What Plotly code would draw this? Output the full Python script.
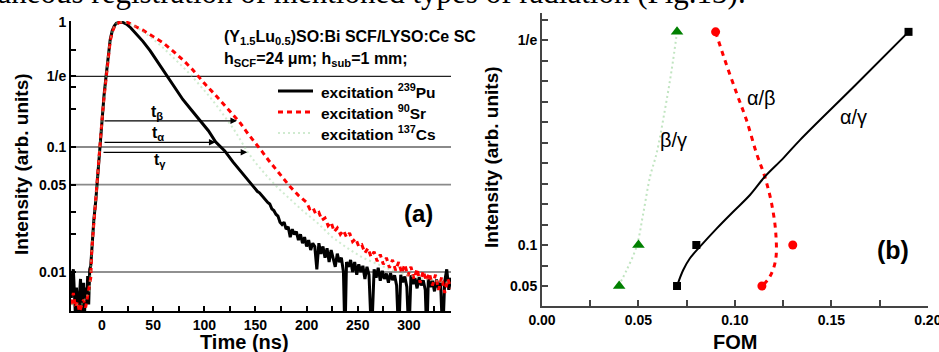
import numpy as np
import plotly.graph_objects as go

W, H = 939, 352
SANS = "Liberation Sans, Arial, sans-serif"
SERIF = "Liberation Serif, Times New Roman, serif"

# ---------------- Panel (a): decay curves ----------------
pu_t = [-30, -29, -28, -27, -26, -25, -24, -23, -22, -21, -20, -19, -18, -17, -16, -15, -14, -13, -12, -11,
        -10, -8, -6, -5, -4, -3, -2, -1, 0, 2, 4, 6, 8, 10, 12, 14, 16, 18, 20, 24, 28, 32, 40, 47, 55, 63,
        71, 79, 88, 96, 104, 111, 120, 128, 136, 144,
        150, 152, 154, 156, 158, 160, 162, 164, 166, 168, 170, 172, 174, 176, 178, 180, 182, 184, 186, 188,
        190, 192, 194, 196, 198, 200, 202, 204, 206, 208, 210, 212, 214, 216, 218, 220, 222, 224, 226, 228,
        230, 232, 234, 236, 237.5, 239, 241, 243, 245, 247, 249, 251, 253, 255, 257, 259, 261, 263.5, 266,
        268, 270, 272, 274, 276, 278, 280, 282, 284, 286, 288, 290, 292, 294, 296, 298, 300, 302, 304, 306,
        308, 310, 312, 314, 316, 317.5, 319, 321, 323, 325, 327, 329, 331, 333, 335, 337, 339, 341]
pu_v = [0.0062, 0.0095, 0.0105, 0.0068, 0.0045, 0.0075, 0.0052, 0.0042, 0.0065, 0.0088, 0.0048, 0.0062,
        0.0082, 0.0048, 0.0075, 0.0055, 0.0093, 0.0055, 0.0105, 0.0112,
        0.016, 0.026, 0.038, 0.048, 0.06, 0.08, 0.11, 0.14, 0.17, 0.26, 0.37, 0.54, 0.72, 0.85, 0.93, 0.975,
        0.995, 1.0, 0.995, 0.96, 0.9, 0.83, 0.7, 0.59, 0.47, 0.37, 0.3, 0.24, 0.195, 0.162, 0.135, 0.11,
        0.093, 0.076, 0.063, 0.052,
        0.046, 0.044, 0.043, 0.041, 0.039, 0.038, 0.036, 0.035, 0.032, 0.031, 0.029, 0.028, 0.025, 0.024,
        0.025, 0.022, 0.023, 0.019, 0.022, 0.020, 0.021, 0.018, 0.020, 0.017, 0.019, 0.016, 0.018, 0.015,
        0.017, 0.016, 0.0105, 0.017, 0.014, 0.016, 0.013, 0.0155, 0.012, 0.015, 0.013, 0.011,
        0.014, 0.012, 0.013, 0.010, 0.003, 0.012, 0.011, 0.0125, 0.010, 0.012, 0.0095, 0.0115, 0.010, 0.0112,
        0.0088, 0.011, 0.0095, 0.003, 0.0105, 0.009, 0.0108, 0.0085, 0.0102, 0.0088, 0.0097, 0.0082, 0.0098,
        0.0086, 0.0094, 0.0078, 0.003, 0.0095, 0.0083, 0.0092, 0.0076, 0.003, 0.0094, 0.008, 0.0089, 0.0074,
        0.0091, 0.0078, 0.0086, 0.0072, 0.003, 0.0088, 0.0076, 0.0085, 0.007, 0.0087, 0.0074, 0.0082, 0.003,
        0.0084, 0.0105, 0.0072, 0.009]

sr_t = [-30, -28, -26, -24, -22, -20, -18, -16, -14, -12, -11, -10, -8, -6, -4, -2, 0, 2, 4, 6, 8, 10, 12,
        14, 17, 20, 23, 26, 30, 35, 40, 50, 60, 70, 80, 88, 94, 102, 110, 118, 126, 134, 142, 150, 156, 163,
        170, 177, 184, 192,
        200, 203, 206, 209, 212, 215, 218, 221, 224, 227, 230, 233, 236, 239, 242, 245, 248, 251, 254, 257,
        260, 263, 266, 269, 272, 275, 278, 281, 284, 287, 290, 293, 296, 299, 302, 305, 308, 311, 314, 317,
        320, 323, 326, 329, 332, 335, 338, 341]
sr_v = [0.0055, 0.0068, 0.0052, 0.0058, 0.0048, 0.0054, 0.006, 0.0052, 0.0065, 0.0075, 0.009, 0.015, 0.025,
        0.037, 0.058, 0.105, 0.165, 0.25, 0.36, 0.52, 0.7, 0.83, 0.91, 0.96, 0.99, 1.0, 1.0, 0.985, 0.94,
        0.9, 0.86, 0.77, 0.68, 0.58, 0.49, 0.42, 0.368, 0.31, 0.265, 0.225, 0.19, 0.16, 0.13, 0.106, 0.093,
        0.078, 0.066, 0.057, 0.048, 0.041,
        0.036, 0.032, 0.033, 0.029, 0.030, 0.026, 0.027, 0.0235, 0.025, 0.021, 0.0225, 0.020, 0.0215, 0.019,
        0.0205, 0.0175, 0.0185, 0.016, 0.0165, 0.0142, 0.0155, 0.0132, 0.0145, 0.0122, 0.0138, 0.0115, 0.013,
        0.0108, 0.0125, 0.0103, 0.012, 0.0098, 0.0115, 0.0093, 0.011, 0.0088, 0.0106, 0.0082, 0.0102, 0.0085,
        0.0098, 0.0078, 0.0095, 0.0072, 0.0091, 0.0068, 0.0088, 0.0074]

cs_t = [-30, -20, -12, -10, -8, -6, -4, -2, 0, 2, 4, 6, 8, 10, 12, 14, 17, 21, 25, 30, 40, 50, 60, 70, 80,
        88, 96, 104, 112, 120, 128, 135, 142, 150, 160, 172, 184, 196, 210, 225, 240, 255, 270, 285, 300,
        315, 330, 341]
cs_v = [0.0055, 0.0055, 0.007, 0.016, 0.026, 0.038, 0.06, 0.11, 0.17, 0.26, 0.37, 0.54, 0.72, 0.85, 0.93,
        0.975, 0.998, 1.0, 0.98, 0.95, 0.84, 0.73, 0.62, 0.52, 0.43, 0.368, 0.31, 0.26, 0.215, 0.175, 0.142,
        0.115, 0.092, 0.075, 0.06, 0.047, 0.038, 0.031, 0.025, 0.019, 0.0155, 0.013, 0.0115, 0.0102, 0.0094,
        0.0088, 0.0084, 0.0082]

a_ticks = [1.0, 1 / np.e, 0.1, 0.05, 0.01]
a_ticktext = ["1", "1/e", "0.1", "0.05", "0.01"]
ref_levels = [1 / np.e, 0.1, 0.05, 0.01]
ref_colors = ["#222222", "#8a8a8a", "#8a8a8a", "#222222"]
ref_widths = [1.2, 2.0, 1.6, 1.2]

series_names = ["excitation <sup>239</sup>Pu", "excitation <sup>90</sup>Sr", "excitation <sup>137</sup>Cs"]
series_colors = ["black", "#ff0000", "rgba(150,210,150,0.45)"]
series_widths = [3, 3, 2]
series_dash = ["solid", "5px,4px", "2px,3px"]

arrow_names = ["t<sub>β</sub>", "t<sub>α</sub>", "t<sub>γ</sub>"]
arrow_level = [0.162, 0.109, 0.0907]
arrow_start = [1, 1, 0]
arrow_end = [132, 111, 142]
arrow_label_x = [54, 55, 57]
arrow_label_y = [0.19, 0.129, 0.0785]

# ---------------- Panel (b): FOM ----------------
ag_fom = [0.07, 0.08, 0.19]
ag_int = [0.05, 0.1, 0.36]
ab_fom = [0.09, 0.13, 0.114]
ab_int = [0.36, 0.1, 0.05]
bg_fom = [0.07, 0.05, 0.04]
bg_int = [0.36, 0.1, 0.05]

ag_fit_fom = [0.07, 0.0732, 0.0767, 0.0819, 0.0905, 0.0991, 0.1078, 0.1155, 0.125, 0.1337, 0.162, 0.19]
ag_fit_int = [0.05, 0.0695, 0.0838, 0.098, 0.12, 0.1406, 0.161, 0.1833, 0.2057, 0.228, 0.294, 0.36]
ab_fit_fom = [0.09, 0.0948, 0.1009, 0.106, 0.1112, 0.1155, 0.119, 0.1212, 0.1211, 0.1181, 0.1138]
ab_fit_int = [0.36, 0.3256, 0.285, 0.2524, 0.2118, 0.1833, 0.1509, 0.1143, 0.0817, 0.0613, 0.0491]
bg_fit_fom = [0.07, 0.0672, 0.0637, 0.0594, 0.056, 0.0525, 0.049, 0.0439, 0.0404]
bg_fit_int = [0.36, 0.3134, 0.2646, 0.2118, 0.1833, 0.1387, 0.098, 0.0695, 0.0533]

b_xticks = [0.0, 0.05, 0.1, 0.15, 0.2]
b_xticktext = ["0.00", "0.05", "0.10", "0.15", "0.20"]
b_ticks = [0.05, 0.1, 0.35]
b_ticktext = ["0.05", "0.1", "1/e"]


def px(x):
    return x / W


def py(y):
    return 1 - y / H


# axis calibration (pixels)
A_L, A_R, A_T, A_B = 71, 451, 21, 311
B_L, B_R, B_T, B_B = 542, 928, 13, 306
a_xrange = [(A_L - 102) / 1.023, (A_R - 102) / 1.023]
a_yrange = [-(A_B - 22) / 125.0, (22 - A_T) / 125.0]
b_xrange = [0.0, 0.2001]
b_yrange = [0.0256, 0.383]

fig = go.Figure()

for lv, c, w in zip(ref_levels, ref_colors, ref_widths):
    fig.add_trace(go.Scatter(x=a_xrange, y=[lv, lv], mode="lines", line=dict(color=c, width=w),
                             showlegend=False, hoverinfo="skip", xaxis="x", yaxis="y"))

for tt, vv, nm, c, w, d in zip([pu_t, sr_t, cs_t], [pu_v, sr_v, cs_v], series_names, series_colors,
                               series_widths, series_dash):
    fig.add_trace(go.Scatter(x=tt, y=vv, mode="lines", name=nm, showlegend=False,
                             line=dict(color=c, width=w, dash=d), xaxis="x", yaxis="y"))

# panel b fits
fig.add_trace(go.Scatter(x=bg_fit_fom, y=bg_fit_int, mode="lines", line_shape="spline",
                         line=dict(color="rgba(150,210,150,0.6)", width=2, dash="2px,3px"),
                         showlegend=False, xaxis="x2", yaxis="y2"))
fig.add_trace(go.Scatter(x=ab_fit_fom, y=ab_fit_int, mode="lines", line_shape="spline",
                         line=dict(color="#ff0000", width=3, dash="5px,5px"),
                         showlegend=False, xaxis="x2", yaxis="y2"))
fig.add_trace(go.Scatter(x=ag_fit_fom, y=ag_fit_int, mode="lines", line_shape="spline",
                         line=dict(color="black", width=2),
                         showlegend=False, xaxis="x2", yaxis="y2"))
fig.add_trace(go.Scatter(x=bg_fom, y=bg_int, mode="markers",
                         marker=dict(symbol="triangle-up", size=11, color="#008000"),
                         showlegend=False, xaxis="x2", yaxis="y2", cliponaxis=False))
fig.add_trace(go.Scatter(x=ab_fom, y=ab_int, mode="markers",
                         marker=dict(symbol="circle", size=9, color="#ff0000"),
                         showlegend=False, xaxis="x2", yaxis="y2", cliponaxis=False))
fig.add_trace(go.Scatter(x=ag_fom, y=ag_int, mode="markers",
                         marker=dict(symbol="square", size=8, color="black"),
                         showlegend=False, xaxis="x2", yaxis="y2", cliponaxis=False))

tickfont = dict(family=SANS, size=14, color="black", weight="bold")
common = dict(showgrid=False, zeroline=False, showline=True, ticks="inside", ticklen=5,
              tickwidth=1.5, tickfont=tickfont, ticklabeloverflow="allow")

ann = []
shapes = []


def text(t, x, y, size, angle=0, xanchor="center", font=SANS):
    ann.append(dict(text=t, xref="paper", yref="paper", x=px(x), y=py(y), xanchor=xanchor,
                    yanchor="middle", textangle=angle, showarrow=False,
                    font=dict(family=font, size=size, color="black")))


# header text from surrounding document
text("simultaneous registration of mentioned types of radiation (Fig.13).", 748, -8, 31,
     xanchor="right", font=SERIF)
# panel a texts
text("<b>(Y<sub>1.5</sub>Lu<sub>0.5</sub>)SO:Bi SCF/LYSO:Ce SC</b>", 222, 38, 16, xanchor="left")
text("<b>h<sub>SCF</sub>=24 μm; h<sub>sub</sub>=1 mm;</b>", 222, 60, 16, xanchor="left")
text("<b>(a)</b>", 418, 213, 24)
text("<b>Time (ns)</b>", 244, 342, 20)
text("<b>Intensity (arb. units)</b>", 22, 164, 19, angle=-90)

# manual legend for panel a
for i, (nm, c, w, d) in enumerate(zip(series_names, series_colors, series_widths, series_dash)):
    yy = 91 + 21 * i
    shapes.append(dict(type="line", xref="paper", yref="paper", x0=px(278), x1=px(313), y0=py(yy),
                       y1=py(yy), line=dict(color=c, width=w, dash=d)))
    text("<b>" + nm + "</b>", 319, yy, 15.5, xanchor="left")

for nm, lv, s, e, lx, ly in zip(arrow_names, arrow_level, arrow_start, arrow_end, arrow_label_x,
                                arrow_label_y):
    ann.append(dict(text="", x=e, y=np.log10(lv), xref="x", yref="y", ax=s, ay=np.log10(lv),
                    axref="x", ayref="y", showarrow=True, arrowhead=2, arrowsize=1.1, arrowwidth=1.2,
                    arrowcolor="black"))
    ann.append(dict(text="<b>" + nm + "</b>", x=lx, y=np.log10(ly), xref="x", yref="y",
                    xanchor="center", yanchor="middle",
                    showarrow=False, font=dict(family=SANS, size=16, color="black")))
# panel b texts
text("β/γ", 673, 140, 20)
text("α/β", 761, 98, 20)
text("α/γ", 853, 117, 20)
text("<b>(b)</b>", 893, 250, 25)
text("<b>FOM</b>", 735, 342, 20)
text("<b>Intensity (arb. units)</b>", 491, 157, 19, angle=-90)

fig.update_layout(
    width=W, height=H, margin=dict(l=0, r=0, t=0, b=0, autoexpand=False),
    paper_bgcolor="white", plot_bgcolor="white",
    showlegend=False,
    xaxis=dict(domain=[px(A_L), px(A_R)], range=a_xrange, anchor="y",
               tickvals=[0, 50, 100, 150, 200, 250, 300],
               minor=dict(dtick=25, ticks="inside", ticklen=5, tickwidth=1.5, tickcolor="black"),
               linecolor="black", linewidth=2, tickcolor="black", **common),
    yaxis=dict(domain=[py(A_B), py(A_T)], type="log", range=a_yrange, anchor="x",
               tickvals=a_ticks, ticktext=a_ticktext,
               minor=dict(tickvals=[0.02, 0.03, 0.2, 0.3, 0.6], ticks="inside", ticklen=5,
                          tickwidth=1.5, tickcolor="black"),
               linecolor="black", linewidth=2, tickcolor="black", **common),
    xaxis2=dict(domain=[px(B_L), px(B_R)], range=b_xrange, anchor="y2",
                tickvals=b_xticks, ticktext=b_xticktext,
                minor=dict(dtick=0.025, tick0=0, ticks="inside", ticklen=6, tickwidth=1.5,
                           tickcolor="#444444"),
                linecolor="#444444", linewidth=2, tickcolor="#444444", **common),
    yaxis2=dict(domain=[py(B_B), py(B_T)], range=b_yrange, anchor="x2",
                tickvals=b_ticks, ticktext=b_ticktext,
                minor=dict(dtick=0.025, tick0=0, ticks="inside", ticklen=6, tickwidth=1.5,
                           tickcolor="#444444"),
                linecolor="#444444", linewidth=2, tickcolor="#444444", **common),
    annotations=ann,
    shapes=shapes,
)

fig.write_html("out.html")
